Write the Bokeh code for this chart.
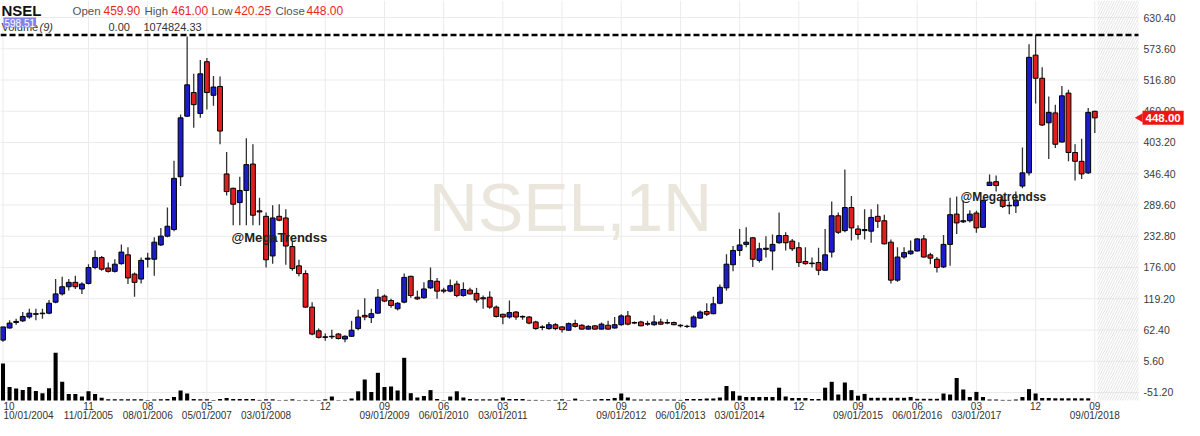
from bokeh.plotting import figure
from bokeh.models import Range1d, Label, ColumnDataSource
from bokeh.core.properties import value
from bokeh.embed import file_html
from bokeh.resources import INLINE

# ---------------- data (monthly candles, index 0 = 10/2004) ----------------
opens = [44,66,76,79,86,91,92,93,113,128,141,149,137,147,176,194,175,169,183,199,
         164,155,191,191,217,233,245,341,451,494,456,550,489,505,346,320,294,316,364,279,
         269,197,269,266,214,179,165,104,61,49,50,55,46,51,65,89,85,93,124,116,
         101,113,160,122,121,139,151,135,133,146,125,135,129,121,122,104,91,86,95,87,
         86,77,68,65,72,68,62,74,71,64,70,64,71,66,72,88,76,77,73,72,
         77,75,76,71,69,68,84,96,92,111,139,181,207,218,230,189,209,206,221,234,
         224,212,187,184,185,171,204,270,243,285,246,243,242,269,261,222,153,195,201,206,
         228,199,191,177,218,273,259,261,275,249,325,332,298,289,288,324,348,562,520,439,
         457,404,493,385,369,348,459.90]
highs = [68,80,83,95,101,101,101,117,155,159,155,161,149,182,207,197,185,191,218,213,
         167,194,203,231,248,285,370,454,596,528,553,557,524,523,386,321,341,411,400,303,
         276,289,291,282,224,190,171,113,65,56,63,57,53,79,99,120,101,137,127,119,
         113,165,161,134,149,176,157,139,154,152,149,139,139,125,133,107,92,116,97,89,
         88,79,71,77,75,69,76,81,73,71,71,76,79,86,91,97,78,79,79,89,
         83,82,78,73,72,89,98,111,123,145,200,215,246,249,231,221,233,236,276,240,
         228,222,213,194,212,246,296,276,354,306,253,282,282,291,272,227,213,213,225,229,
         235,203,195,235,303,305,298,280,279,299,345,343,307,296,314,394,582,598.51,540,487,
         472,506,499,400,410,466,461.00]
lows = [41,65,72,77,83,80,83,91,111,125,134,137,128,145,173,170,167,167,181,146,
        123,147,176,161,215,231,242,324,450,430,448,463,470,400,307,253,253,253,253,253,
        176,183,260,181,170,160,103,53,47,43,46,45,40,50,62,80,75,92,113,103,
        98,111,121,117,119,137,119,129,131,122,123,127,112,101,101,85,73,83,81,81,
        73,63,62,63,62,58,61,67,63,63,63,63,63,65,70,71,73,69,70,70,
        72,73,71,67,66,67,83,88,91,109,134,169,197,213,177,185,194,171,219,207,
        206,177,181,176,162,170,194,237,240,225,227,227,221,248,218,147,150,192,199,205,
        194,182,167,175,179,237,257,258,239,248,324,314,284,273,275,320,343,474,433,373,
        393,403,369,334,337,346,420.25]
closes = [68,75,78,87,93,92,93,111,128,141,149,141,146,176,194,173,169,182,204,157,
          149,189,193,222,233,251,338,448,508,472,528,494,504,424,314,291,316,363,271,277,
          190,266,262,215,174,165,104,55,49,50,51,47,51,62,86,86,92,122,115,107,
          111,158,125,119,137,152,133,133,143,125,136,128,117,119,104,87,86,94,86,86,
          75,65,67,72,65,63,74,69,64,69,64,73,64,72,88,73,75,70,74,77,
          73,76,72,70,69,86,95,91,110,140,182,207,217,222,191,210,211,218,234,221,
          210,185,183,183,171,199,270,240,285,248,236,245,267,260,219,153,195,203,206,228,
          195,193,176,218,272,257,261,273,248,298,331,325,287,288,298,348,558,520,435,458,
          400,488,385,369,346,458,448.00]
volume = [3700,1350,1200,1040,1350,960,730,1230,4770,1880,650,650,400,920,650,270,120,120,120,120,
          120,120,60,100,120,150,350,1000,700,150,120,120,60,150,250,150,150,150,150,60,
          120,120,40,60,120,40,60,60,40,120,400,40,60,200,920,2100,850,2770,1350,1400,
          1000,4270,730,300,450,1040,150,40,400,920,300,150,120,120,120,120,300,150,150,150,
          60,60,40,40,60,120,40,190,40,40,100,150,150,250,700,300,100,100,100,100,
          100,100,100,60,150,150,150,200,200,300,1450,930,480,350,350,350,350,350,1280,400,
          250,250,250,150,150,1280,1870,600,1800,1040,480,660,270,270,270,270,270,270,350,170,
          170,170,170,700,600,2250,1100,350,860,350,100,100,60,60,100,350,1140,700,250,250,
          220,220,220,220,220,220,0]

tick_index = [0,13,22,31,40,49,58,67,76,85,94,103,112,121,130,139,148,157,166]
tick_month = ["10","11","08","05","03","12","09","06","03","12","09","06","03","12","09","06","03","12","09"]
tick_date = ["10/01/2004","11/01/2005","08/01/2006","05/01/2007","03/01/2008","",
             "09/01/2009","06/01/2010","03/01/2011","","09/01/2012","06/01/2013",
             "03/01/2014","","09/01/2015","06/01/2016","03/01/2017","","09/01/2018"]
price_ticks = [-51.20,5.60,62.40,119.20,176.00,232.80,289.60,346.40,403.20,460.00,516.80,573.60,630.40]
resistance = 598.51
header_vals = {"Open": "459.90", "High": "461.00", "Low": "420.25", "Close": "448.00"}
last_close = closes[-1]

# ---------------- layout (whole canvas is the frame; pixel -> data helpers) ----------------
W, H = 1184, 420
X0, X1 = -0.380, 179.64
Y0, Y1 = -102.1, 661.3
def mx(fx):
    return X0 + fx * (X1 - X0) / W
def my(fy):
    return Y1 - fy * (Y1 - Y0) / H
PLOT_R = mx(1138)      # right edge of the plotting area
PLOT_B = my(400)       # bottom of the plotting area (volume baseline)
FONT = value("Liberation Sans")

idx = list(range(len(opens)))
up = [c >= o for o, c in zip(opens, closes)]
src = ColumnDataSource(dict(
    x=idx, o=opens, h=highs, l=lows, c=closes,
    top=[max(o, c) for o, c in zip(opens, closes)],
    bot=[min(o, c) for o, c in zip(opens, closes)],
    col=["#1c1ccc" if u else "#e01e1e" for u in up],
    vol=volume,
))

p = figure(width=W, height=H, x_range=Range1d(X0, X1), y_range=Range1d(Y0, Y1),
           x_axis_type=None, y_axis_type=None, output_backend="svg", toolbar_location=None,
           min_border=0, background_fill_color="white", border_fill_color="white")
p.outline_line_color = None
# volume scale: 0 at the plot bottom, 100 units per pixel
p.extra_y_ranges = {"vol": Range1d(-(H - 400) * 100, 400 * 100)}

# grid
p.segment(x0=X0, x1=PLOT_R, y0=price_ticks, y1=price_ticks, line_color="#ebebeb", line_width=1)
p.segment(x0=tick_index, x1=tick_index, y0=PLOT_B, y1=Y1, line_color="#ebebeb", line_width=1)

# hatch on the empty right part
p.quad(left=[mx(1097)], right=[PLOT_R], bottom=[PLOT_B], top=[Y1], fill_color=None, line_color=None,
       hatch_pattern="/", hatch_color="#dcdcdc", hatch_scale=5, hatch_weight=0.8)

# watermark
p.text(x=[mx(570)], y=[my(206)], text=["NSEL,1N"], text_align="center", text_baseline="middle",
       text_font=FONT, text_font_size=value("68px"), text_color="#ebe6dc")

# volume
p.vbar(x="x", top="vol", bottom=0, width=0.62, source=src, y_range_name="vol",
       fill_color="black", line_color=None)

# candles
p.segment(x0="x", y0="l", x1="x", y1="h", source=src, line_color="#333333", line_width=1.3)
p.vbar(x="x", top="top", bottom="bot", width=0.74, source=src, fill_color="col",
       line_color="black", line_width=1)

# dashed resistance
p.segment(x0=[X0], x1=[PLOT_R], y0=[resistance], y1=[resistance], line_color="black",
          line_dash="6 3", line_width=2.5)

# right price axis labels
p.text(x=[mx(1143)] * len(price_ticks), y=price_ticks, text=["%.2f" % t for t in price_ticks],
       text_align="left", text_baseline="middle", text_font=FONT,
       text_font_size=value("10.5px"), text_color="#3a3a3a")

# bottom date axis labels
y_month, y_date = my(405.5), my(415)
p.text(x=tick_index[1:], y=[y_month] * (len(tick_index) - 1), text=tick_month[1:],
       text_align="center", text_baseline="middle", text_font=FONT,
       text_font_size=value("10px"), text_color="#333333")
p.text(x=tick_index[1:], y=[y_date] * (len(tick_index) - 1), text=tick_date[1:],
       text_align="center", text_baseline="middle", text_font=FONT,
       text_font_size=value("10px"), text_color="#333333")
p.text(x=[mx(3)] * 2, y=[y_month, y_date], text=[tick_month[0], tick_date[0]],
       text_align="left", text_baseline="middle", text_font=FONT,
       text_font_size=value("10px"), text_color="#333333")

# header
def lab(px, py, t, size="12px", color="#666666", style="normal", **kw):
    p.add_layout(Label(x=mx(px), y=my(py), text=t, text_align="left", text_baseline="middle",
                       text_font="Liberation Sans", text_font_size=size, text_color=color,
                       text_font_style=style, **kw))
lab(1, 10, "NSEL", size="15px", color="#111111", style="bold")
hx = {"Open": (72, 103), "High": (144, 171), "Low": (211, 234), "Close": (275, 306)}
for k, (a, b) in hx.items():
    lab(a, 10, k, size="11.5px", color="#555555")
    lab(b, 10, header_vals[k], size="12px", color="#e8261c")
lab(1, 26, "Volume", size="11px", color="#333333")
lab(39, 26, "(9)", size="11px", color="#333333", style="italic")
lab(108, 26, "0.00", size="11px", color="#333333")
lab(143, 26, "1074824.33", size="11px", color="#333333")
p.add_layout(Label(x=mx(3), y=my(22), text="%.2f" % resistance, text_align="left", text_baseline="middle",
                   text_font="Liberation Sans", text_font_size="10px", text_color="white",
                   background_fill_color="#8484e6", padding=1))

# twitter handles
lab(231, 237, "@MegaTrendss", size="13px", color="#222222", style="bold")
lab(960, 196, "@Megatrendss", size="12px", color="#222222", style="bold")

# last price tag with a small pointer
p.triangle(x=[mx(1139.5)], y=[last_close], size=9, angle=1.5708, fill_color="#f01414",
           line_color=None)
p.add_layout(Label(x=mx(1142), y=last_close, text="%.2f" % last_close,
                   text_align="left", text_baseline="middle", text_font="Liberation Sans",
                   text_font_size="11.5px", text_font_style="bold", text_color="white",
                   background_fill_color="#f01414", padding=3))

open("out.html", "w").write(file_html(p, INLINE))
